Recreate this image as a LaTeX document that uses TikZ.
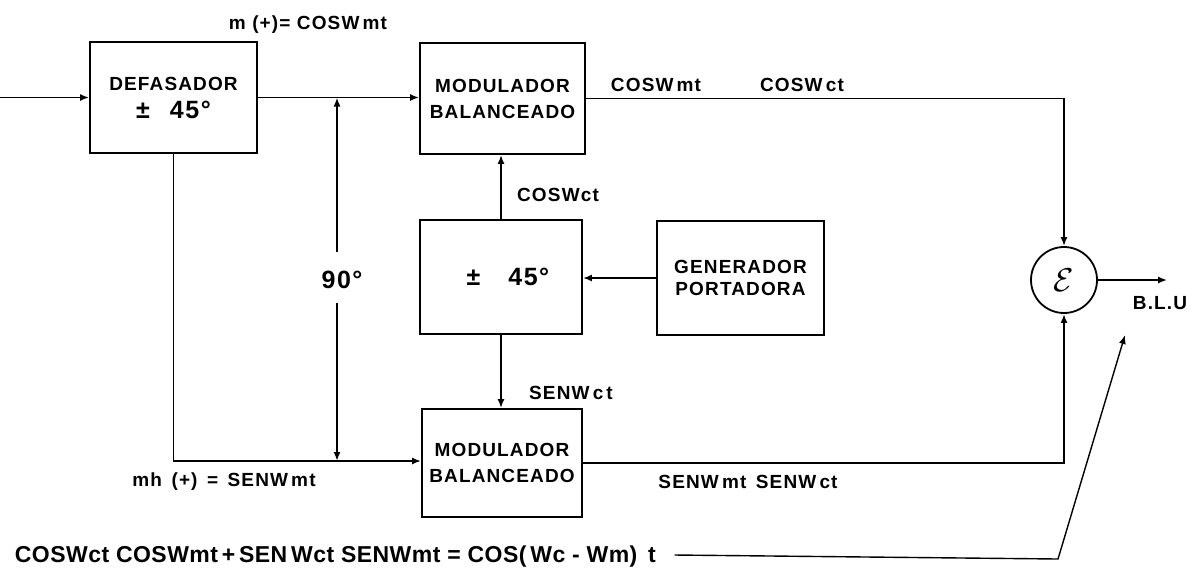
\documentclass[tikz,border=0pt]{standalone}
\usepackage{fontspec}
\setmainfont{Liberation Sans}[LetterSpace=6]
\newfontfamily\eqfont{Liberation Sans}[LetterSpace=2]
\usetikzlibrary{arrows.meta}
\begin{document}
\begin{tikzpicture}[x=1pt,y=-1pt, line width=1.8pt,
  blk/.style={draw, line width=1.8pt, inner sep=0pt, align=center, font=\fontsize{19}{26}\selectfont\bfseries},
  lbl/.style={inner sep=0pt, font=\fontsize{19}{23}\selectfont\bfseries},
  big/.style={font=\fontsize{25}{28}\selectfont\bfseries},
  arr/.style={-{Latex[length=9pt,width=7pt]}},
  ]
\useasboundingbox (0,0) rectangle (1198,574);
% blocks
\node[blk, minimum width=167pt, minimum height=111pt] (def) at (173.5,97.5) {DEFASADOR\\[2pt]{\fontsize{25}{28}\selectfont ±\hspace{20pt}45°}};
\node[blk, minimum width=165pt, minimum height=111pt] (mod1) at (502.5,98.5) {MODULADOR\\BALANCEADO};
\node[blk, minimum width=162pt, minimum height=114pt, font=\fontsize{25}{28}\selectfont\bfseries] (ph) at (501,277) {\hspace*{14pt}±\hspace{28pt}45°};
\node[blk, minimum width=167pt, minimum height=114pt] (gen) at (740.5,278) {GENERADOR\\[-4pt]PORTADORA};
\node[blk, minimum width=160pt, minimum height=108pt] (mod2) at (502,463) {MODULADOR\\BALANCEADO};
\node[draw, circle, minimum size=66pt, inner sep=0pt] (sum) at (1064,280) {\scalebox{3.3}{$\mathcal{E}$}};
% labels
\node[lbl] (lm) at (308,25) {m (+)= COSW\,mt};
\node[lbl] (l1) at (656,85) {COSW\,mt};
\node[lbl] (l2) at (802,85) {COSW\,ct};
\node[lbl] (l3) at (558,195) {COSWct};
\node[lbl] (l4) at (571,393) {SENW\,c\,t};
\node[lbl] (l5) at (224,482) {mh\enspace (+)\enspace =\enspace SENW\,mt};
\node[lbl] (l6) at (748,482) {SENW\,mt\enspace SENW\,ct};
\node[lbl, big] (ninety) at (342,280) {90°};
\node[lbl] (blu) at (1160,303) {B.L.U};
\node[inner sep=0pt, anchor=west, font=\fontsize{23}{26}\selectfont\eqfont\bfseries] (eq) at (14,557) {COSWct COSWmt\,+\,SEN\,Wct SENWmt = COS(\,Wc - Wm)\, t};
% coordinates
\coordinate (in) at (0,97.5);
\coordinate (j1) at (337,97.5);
\coordinate (j2) at (337,461);
\coordinate (b1) at (337,252);
\coordinate (b2) at (337,303);
\coordinate (out) at (1167,280);
\coordinate (k1) at (1058,559);
\coordinate (tip) at (1125,335);
% connectors
\draw[arr] (in) -- (def.west);
\draw[arr] (def.east) -- (mod1.west |- def.east);
\draw[arr] (b1) -- (j1);
\draw[arr] (b2) -- (j2);
\draw[arr] (def.south) -- (def.south |- j2) -- (j2 -| mod2.west);
\draw[arr] (ph.north) -- (ph.north |- mod1.south);
\draw[arr] (gen.west) -- (ph.east |- gen.west);
\draw[arr] (ph.south) -- (ph.south |- mod2.north);
\draw[arr] (mod1.east) -- (sum.north |- mod1.east) -- (sum.north);
\draw[arr] (mod2.east) -- (sum.south |- mod2.east) -- (sum.south);
\draw[arr, line width=1.4pt] (sum.east) -- (out);
\draw[arr, line width=1.4pt] ([xshift=18pt,yshift=2pt]eq.east) -- (k1) -- (tip);
\end{tikzpicture}
\end{document}
